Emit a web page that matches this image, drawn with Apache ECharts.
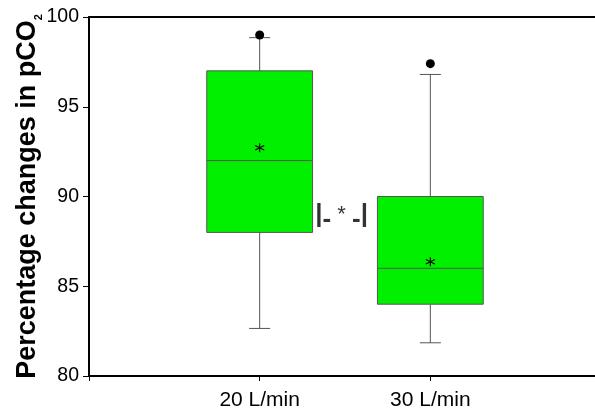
<!DOCTYPE html>
<html>
<head>
<meta charset="utf-8">
<script src="https://cdn.jsdelivr.net/npm/echarts@6/dist/echarts.min.js"></script>
<style>
html,body{margin:0;padding:0;background:#fff;}
#chart{width:595px;height:413px;}
</style>
</head>
<body>
<div id="chart"></div>
<script>
// ---- data ----
const categories = ['20 L/min', '30 L/min'];
const categoryPositions = [1, 2];
const whiskerLow = [82.65, 81.85];
const quartile1 = [88, 84];
const medians = [92, 86];
const quartile3 = [97, 90];
const whiskerHigh = [98.85, 96.8];
const outlierValues = [99.0, 97.4];
const meanValues = [92.72, 86.37];
const yTicks = { min: 80, max: 100, interval: 5 };
const significance = { x: 1.48, y: 89.0, text: '|-*-|' };

// ---- build series data ----
const boxData = categoryPositions.map((x, i) =>
  [x, whiskerLow[i], quartile1[i], medians[i], quartile3[i], whiskerHigh[i]]);
const outlierData = categoryPositions.map((x, i) => [x, outlierValues[i]]);
const meanData = categoryPositions.map((x, i) => [x, meanValues[i]]);

const FONT = 'Liberation Sans, Arial, sans-serif';

function renderBox(params, api) {
  const x = api.value(0);
  const lo = api.coord([x, api.value(1)]);
  const q1 = api.coord([x, api.value(2)]);
  const md = api.coord([x, api.value(3)]);
  const q3 = api.coord([x, api.value(4)]);
  const hi = api.coord([x, api.value(5)]);
  const unit = api.size([1, 0])[0];
  const w = unit * 0.62;
  const cap = unit * 0.123;
  const cx = lo[0];
  const lineStyle = { stroke: '#555', lineWidth: 1 };
  return {
    type: 'group',
    children: [
      { type: 'line', shape: { x1: cx, y1: lo[1], x2: cx, y2: q1[1] }, style: lineStyle },
      { type: 'line', shape: { x1: cx - cap / 2, y1: lo[1], x2: cx + cap / 2, y2: lo[1] }, style: lineStyle },
      { type: 'line', shape: { x1: cx, y1: hi[1], x2: cx, y2: q3[1] }, style: lineStyle },
      { type: 'line', shape: { x1: cx - cap / 2, y1: hi[1], x2: cx + cap / 2, y2: hi[1] }, style: lineStyle },
      { type: 'rect', shape: { x: cx - w / 2, y: q3[1], width: w, height: q1[1] - q3[1] },
        style: { fill: '#00f000', stroke: '#555', lineWidth: 1 } },
      { type: 'line', shape: { x1: cx - w / 2, y1: md[1], x2: cx + w / 2, y2: md[1] }, style: lineStyle }
    ]
  };
}

const chart = echarts.init(document.getElementById('chart'), null, { renderer: 'canvas' });
chart.setOption({
  animation: false,
  backgroundColor: '#fff',
  grid: { left: 89, right: -6, top: 17, bottom: 37, containLabel: false, outerBoundsMode: 'none' },
  xAxis: [{
    type: 'value', min: 0, max: 3, position: 'bottom',
    axisLine: { show: true, lineStyle: { color: '#000', width: 2 } },
    axisTick: { show: true, customValues: [0, 1, 2], length: 5, lineStyle: { color: '#000', width: 1 } },
    axisLabel: { show: true, customValues: categoryPositions,
      formatter: v => categories[categoryPositions.indexOf(v)] || '',
      fontFamily: FONT, fontSize: 21, color: '#000', margin: 14 },
    splitLine: { show: false }
  }, {
    type: 'value', min: 0, max: 3, position: 'top',
    axisLine: { show: true, onZero: false, lineStyle: { color: '#000', width: 2 } },
    axisTick: { show: false }, axisLabel: { show: false }, splitLine: { show: false }
  }],
  yAxis: {
    type: 'value', min: yTicks.min, max: yTicks.max, interval: yTicks.interval,
    axisLine: { show: true, lineStyle: { color: '#000', width: 2 } },
    axisTick: { show: true, length: 6, lineStyle: { color: '#000', width: 1 } },
    axisLabel: { fontFamily: FONT, fontSize: 19.5, color: '#000', margin: 10 },
    splitLine: { show: false },
    name: '{a|Percentage changes in pCO}{b|2}',
    nameLocation: 'middle',
    nameGap: 47,
    nameMoveOverlap: false,
    nameTextStyle: {
      rich: {
        a: { fontFamily: FONT, fontSize: 27, fontWeight: 'bold', color: '#000', lineHeight: 28, verticalAlign: 'top' },
        b: { fontFamily: FONT, fontSize: 11, fontWeight: 'bold', color: '#000', lineHeight: 11, padding: [19, 0, 6, 0], verticalAlign: 'top' }
      }
    }
  },
  series: [{
    type: 'custom',
    renderItem: renderBox,
    data: boxData,
    encode: { x: 0, y: [1, 2, 3, 4, 5] },
    clip: false,
    z: 2
  }, {
    type: 'scatter',
    data: outlierData,
    symbol: 'circle',
    symbolSize: 9,
    itemStyle: { color: '#000', opacity: 1 },
    z: 3
  }, {
    type: 'scatter',
    data: meanData,
    symbol: 'path://M5,0 L5,10 M0.67,2.5 L9.33,7.5 M0.67,7.5 L9.33,2.5',
    symbolSize: 9,
    itemStyle: { color: 'transparent', borderColor: '#000', borderWidth: 1.1, opacity: 1 },
    z: 4
  }, {
    type: 'scatter',
    data: [[significance.x, significance.y]],
    symbolSize: 0,
    z: 5,
    label: {
      show: true, position: 'inside',
      formatter: '{a||}{h|-}{s| * }{h|-}{a||}',
      rich: {
        a: { fontFamily: FONT, fontSize: 26, fontWeight: 'bold', color: '#000', lineHeight: 26 },
        h: { fontFamily: FONT, fontSize: 26, fontWeight: 'bold', color: '#000', lineHeight: 26, padding: [10, 0, 0, 0] },
        s: { fontFamily: FONT, fontSize: 22, color: '#000', lineHeight: 22 }
      }
    }
  }]
});
</script>
</body>
</html>
